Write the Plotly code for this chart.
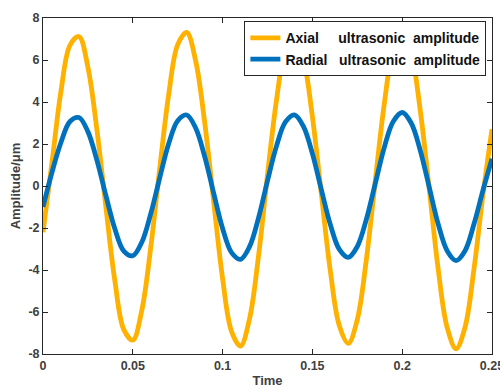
import plotly.graph_objects as go

time = [0.000, 0.005, 0.010, 0.015, 0.020, 0.025, 0.030, 0.035, 0.040, 0.045,
        0.050, 0.055, 0.060, 0.065, 0.070, 0.075, 0.080, 0.085, 0.090, 0.095,
        0.100, 0.105, 0.110, 0.115, 0.120, 0.125, 0.130, 0.135, 0.140, 0.145,
        0.150, 0.155, 0.160, 0.165, 0.170, 0.175, 0.180, 0.185, 0.190, 0.195,
        0.200, 0.205, 0.210, 0.215, 0.220, 0.225, 0.230, 0.235, 0.240, 0.245,
        0.250]

axial = [-2.20, 1.12, 4.51, 6.70, 7.12, 5.66, 2.69, -0.99, -4.51, -6.84,
         -7.34, -5.93, -2.92, 0.84, 4.36, 6.73, 7.31, 5.96, 3.04, -0.71,
         -4.41, -6.93, -7.62, -6.32, -3.33, 0.53, 4.08, 6.55, 7.29, 6.10,
         3.30, -0.39, -4.06, -6.65, -7.49, -6.36, -3.53, 0.23, 3.90, 6.53,
         7.45, 6.38, 3.64, -0.09, -3.93, -6.73, -7.75, -6.72, -3.93, -0.40,
         2.70]

radial = [-1.00, 0.65, 2.07, 3.07, 3.26, 2.59, 1.23, -0.45, -2.04, -3.10,
          -3.32, -2.68, -1.32, 0.39, 2.02, 3.11, 3.38, 2.76, 1.41, -0.33,
          -2.02, -3.17, -3.49, -2.89, -1.52, 0.25, 1.90, 3.05, 3.39, 2.84,
          1.54, -0.18, -1.84, -3.02, -3.40, -2.88, -1.60, 0.11, 1.83, 3.07,
          3.50, 3.00, 1.71, -0.04, -1.80, -3.08, -3.55, -3.08, -1.80, -0.20,
          1.30]

x_ticks = [0, 0.05, 0.1, 0.15, 0.2, 0.25]
x_tick_labels = ["0", "0.05", "0.1", "0.15", "0.2", "0.25"]
y_ticks = [-8, -6, -4, -2, 0, 2, 4, 6, 8]
y_tick_labels = ["-8", "-6", "-4", "-2", "0", "2", "4", "6", "8"]

nb = "\u00a0"
axial_name = "Axial" + nb * 5 + "ultrasonic" + nb * 2 + "amplitude"
radial_name = "Radial" + nb * 3 + "ultrasonic" + nb * 2 + "amplitude"

FONT = "Liberation Sans, Arial, sans-serif"
AX = "#262626"
LBL = "#404040"

fig = go.Figure()
fig.add_trace(go.Scatter(x=time, y=axial, mode="lines", name=axial_name,
                         line=dict(color="#FFB100", width=4.8, shape="spline", smoothing=1.0)))
fig.add_trace(go.Scatter(x=time, y=radial, mode="lines", name=radial_name,
                         line=dict(color="#0072BD", width=4.8, shape="spline", smoothing=1.0)))

axis_common = dict(
    showline=True, linecolor=AX, linewidth=1, mirror="ticks",
    ticks="inside", ticklen=5, tickwidth=1, tickcolor=AX,
    showgrid=False, zeroline=False, automargin=False,
    ticklabeloverflow="allow",
    tickfont=dict(family=FONT, size=12.5, color=LBL, weight="bold"),
)

fig.update_xaxes(range=[0, 0.25], tickvals=x_ticks, ticktext=x_tick_labels,
                 title=dict(text="<b>Time</b>", font=dict(family=FONT, size=13, color=LBL),
                            standoff=5),
                 **axis_common)
fig.update_yaxes(range=[-8, 8], tickvals=y_ticks, ticktext=y_tick_labels,
                 title=dict(text="<b>Amplitude/μm</b>", font=dict(family=FONT, size=13, color=LBL),
                            standoff=4),
                 **axis_common)

fig.update_layout(
    width=500, height=388,
    margin=dict(l=43, r=8, t=18, b=34, autoexpand=False),
    paper_bgcolor="white", plot_bgcolor="white",
    showlegend=True,
    legend=dict(x=0.9875, y=0.99, xanchor="right", yanchor="top",
                bgcolor="white", bordercolor=AX, borderwidth=1,
                font=dict(family=FONT, size=14, color="#111111", weight="bold"),
                itemwidth=30, tracegroupgap=0),
)

fig.write_html("out.html",
               config={"displayModeBar": False},
               post_script="document.body.style.margin='0px';document.body.style.overflow='hidden';")
